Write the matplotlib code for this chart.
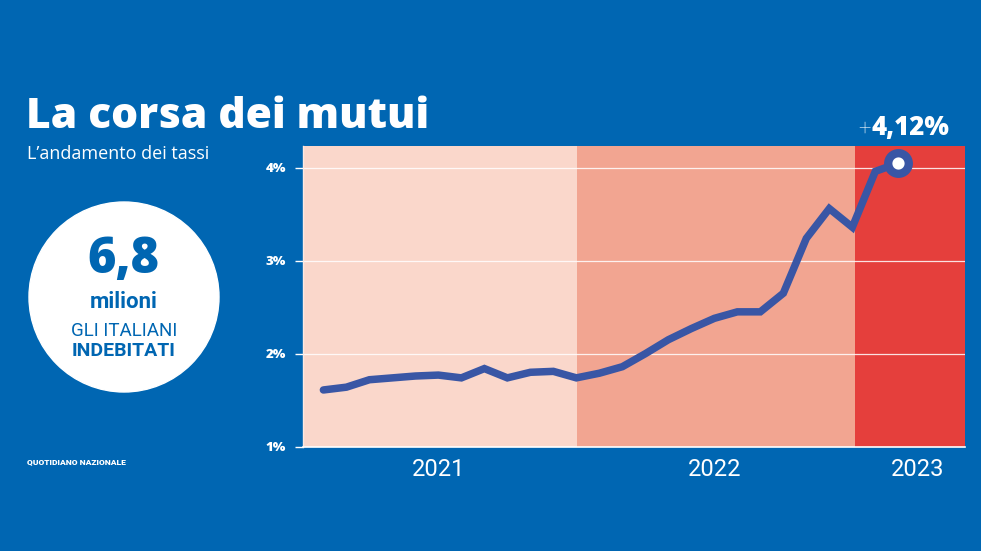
import matplotlib
matplotlib.use("Agg")
import matplotlib.pyplot as plt
from matplotlib.patches import Circle

# ---- data ----
months = list(range(1, 27))  # Feb 2021 .. Feb 2023 (month index, Jan 2021 = 0)
rates = [1.61, 1.64, 1.72, 1.74, 1.76, 1.77, 1.74, 1.84, 1.74, 1.80, 1.81, 1.74,
         1.79, 1.86, 2.00, 2.15, 2.27, 2.38, 2.45, 2.45, 2.65, 3.24, 3.56, 3.36,
         3.96, 4.05]
years = ["2021", "2022", "2023"]
year_bounds = [(0, 12.03), (12.03, 24.1), (24.1, 28.9)]
year_label_pos = [6, 18, 26.85]
yticks = [1, 2, 3, 4]
ytick_labels = ["1%", "2%", "3%", "4%"]
last_label = "4,12%"

# ---- style ----
BG = "#0066b2"
LINE = "#3956a5"
REGION_COLORS = ["#fad7cb", "#f2a591", "#e53f3c"]
W, H = 981, 551
DPI = 100
HEAVY = ["Open Sans", "DejaVu Sans"]
REG = ["Roboto", "DejaVu Sans"]

fig = plt.figure(figsize=(W / DPI, H / DPI), dpi=DPI, facecolor=BG)

# overlay axes in pixel coordinates for text and circle
ov = fig.add_axes([0, 0, 1, 1], zorder=0)
ov.set_xlim(0, W)
ov.set_ylim(H, 0)
ov.axis("off")
ov.set_facecolor("none")

ax = fig.add_axes([302.7 / W, 1 - 446.7 / H, (965 - 302.7) / W, (446.7 - 146) / H], zorder=1)
ax.set_facecolor(BG)
for (a, b), c in zip(year_bounds, REGION_COLORS):
    ax.axvspan(a, b, color=c, lw=0, zorder=0)
ax.set_xlim(0.1, 28.9)
ax.set_ylim(1.0, 4.233)

for y in yticks[1:]:
    ax.axhline(y, color="white", lw=0.9, alpha=0.85, zorder=1)

ax.plot(months, rates, color=LINE, lw=5.4, solid_joinstyle="miter", solid_capstyle="round", zorder=3)
ax.plot(months[-1:], rates[-1:], "o", ms=14.8, mfc="white", mec=LINE, mew=6.0, zorder=4)

ax.set_yticks(yticks)
ax.set_yticklabels(ytick_labels)
ax.tick_params(axis="y", colors="white", length=6, width=1, pad=6, labelsize=9.5)
for lab in ax.get_yticklabels():
    lab.set_fontweight("heavy")
    lab.set_fontfamily(HEAVY)
ax.set_xticks(year_label_pos)
ax.set_xticklabels(years)
ax.tick_params(axis="x", length=0, pad=8, labelsize=17, colors="white")
for lab in ax.get_xticklabels():
    lab.set_fontfamily(REG)

for s in ["top", "right"]:
    ax.spines[s].set_visible(False)
ax.spines["left"].set_color("#fbe9e3")
ax.spines["left"].set_linewidth(1)
ax.spines["bottom"].set_color("white")
ax.spines["bottom"].set_linewidth(1.2)

# titles
ov.text(26, 128, "La corsa dei mutui", color="white", fontsize=30.6, fontweight="heavy",
        family=HEAVY, ha="left", va="baseline")
ov.text(27, 159, "L\u2019andamento dei tassi", color="white", fontsize=13,
        family=["Open Sans", "DejaVu Sans"], ha="left", va="baseline")

# circle callout
ov.add_patch(Circle((124, 297), 95, color="white", zorder=2))
ov.text(123, 272.5, "6,8", color=BG, fontsize=35, fontweight="heavy",
        family=HEAVY, ha="center", va="baseline", zorder=3)
ov.text(124, 308, "milioni", color=BG, fontsize=16, fontweight="bold",
        family=REG, ha="center", va="baseline", zorder=3)
ov.text(124, 336.5, "GLI ITALIANI", color=BG, fontsize=13.5,
        family=REG, ha="center", va="baseline", zorder=3)
ov.text(124, 356.5, "INDEBITATI", color=BG, fontsize=14, fontweight="bold",
        family=REG, ha="center", va="baseline", zorder=3)

ov.text(27, 464, "QUOTIDIANO NAZIONALE", color="white", fontsize=6.1, fontweight="heavy",
        family=REG, ha="left", va="baseline")

# last value label
ov.text(871, 135, "+", color="white", fontsize=16, fontweight="light",
        family=REG, ha="right", va="baseline")
ov.text(871, 135, last_label, color="white", fontsize=18.5, fontweight="heavy",
        family=HEAVY, ha="left", va="baseline")

fig.savefig("out.png", dpi=DPI, facecolor=BG)
